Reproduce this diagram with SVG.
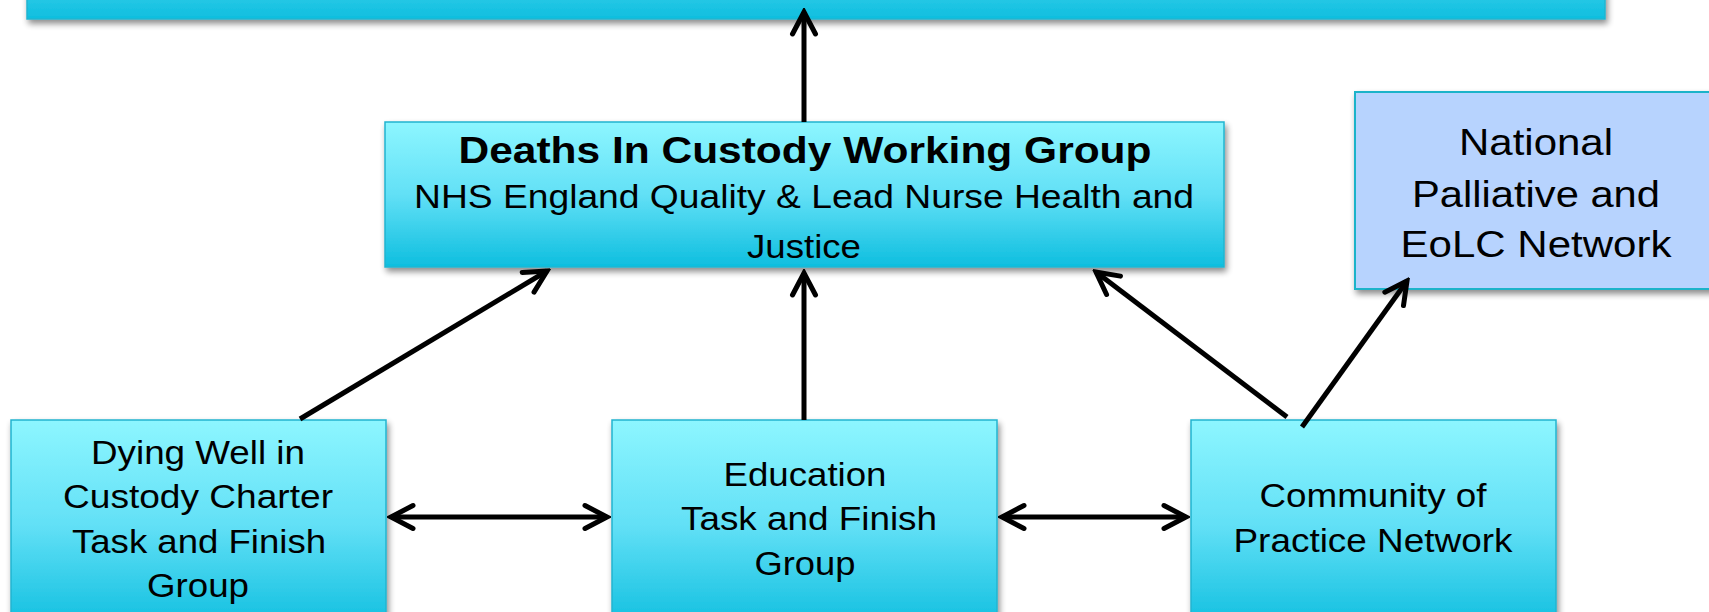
<svg xmlns="http://www.w3.org/2000/svg" width="1709" height="612" viewBox="0 0 1709 612">
<defs>
<linearGradient id="cyan" x1="0" y1="0" x2="0" y2="1">
<stop offset="0" stop-color="#8DF6FF"/>
<stop offset="0.5" stop-color="#62E0F6"/>
<stop offset="1" stop-color="#0EBEDF"/>
</linearGradient>
<filter id="shadow" x="-5%" y="-10%" width="115%" height="130%">
<feGaussianBlur in="SourceAlpha" stdDeviation="3"/>
<feOffset dx="2" dy="4" result="b"/>
<feComponentTransfer><feFuncA type="linear" slope="0.45"/></feComponentTransfer>
<feMerge><feMergeNode/><feMergeNode in="SourceGraphic"/></feMerge>
</filter>
<marker id="arr" markerUnits="userSpaceOnUse" viewBox="-30 -16 34 32" refX="0" refY="0" markerWidth="34" markerHeight="32" orient="auto-start-reverse">
<path d="M-22,-11.5 L0,0 L-22,11.5" fill="none" stroke="#000" stroke-width="5" stroke-linejoin="miter" stroke-linecap="round"/>
</marker>
<style>
.box{fill:url(#cyan);stroke:#22B4CF;stroke-width:1.5;filter:url(#shadow)}
.blue{fill:#B7D3FE;stroke:#1FB3C9;stroke-width:2;filter:url(#shadow)}
.t{font-family:"Liberation Sans",Arial,sans-serif;font-size:34px;fill:#000;text-anchor:middle}
.b{font-weight:bold;font-size:37px}
.n{font-size:37px}
.c{fill:none;stroke:#000;stroke-width:5;marker-end:url(#arr)}
.d{marker-start:url(#arr)}
</style>
</defs>
<rect width="1709" height="612" fill="#FFFFFF"/>
<g id="top-box">
<rect class="box" x="27" y="-130" width="1578" height="149"/>
</g>
<g id="deaths-in-custody">
<rect class="box" x="385" y="122" width="839" height="145"/>
<text class="t b" x="805" y="163" textLength="693" lengthAdjust="spacingAndGlyphs">Deaths In Custody Working Group</text>
<text class="t" x="804" y="208" textLength="780" lengthAdjust="spacingAndGlyphs">NHS England Quality &amp; Lead Nurse Health and</text>
<text class="t" x="804" y="258" textLength="114" lengthAdjust="spacingAndGlyphs">Justice</text>
</g>
<g id="national-palliative">
<rect class="blue" x="1355" y="92" width="365" height="197"/>
<text class="t n" x="1536" y="155" textLength="154" lengthAdjust="spacingAndGlyphs">National</text>
<text class="t n" x="1536" y="207" textLength="248" lengthAdjust="spacingAndGlyphs">Palliative and</text>
<text class="t n" x="1536" y="257" textLength="271" lengthAdjust="spacingAndGlyphs">EoLC Network</text>
</g>
<g id="dying-well">
<rect class="box" x="11" y="420" width="375" height="210"/>
<text class="t" x="198" y="464" textLength="214" lengthAdjust="spacingAndGlyphs">Dying Well in</text>
<text class="t" x="198" y="508" textLength="270" lengthAdjust="spacingAndGlyphs">Custody Charter</text>
<text class="t" x="199" y="553" textLength="254" lengthAdjust="spacingAndGlyphs">Task and Finish</text>
<text class="t" x="198" y="597" textLength="102" lengthAdjust="spacingAndGlyphs">Group</text>
</g>
<g id="education">
<rect class="box" x="612" y="420" width="385" height="210"/>
<text class="t" x="805" y="486" textLength="163" lengthAdjust="spacingAndGlyphs">Education</text>
<text class="t" x="809" y="530" textLength="256" lengthAdjust="spacingAndGlyphs">Task and Finish</text>
<text class="t" x="805" y="575" textLength="101" lengthAdjust="spacingAndGlyphs">Group</text>
</g>
<g id="community-of-practice">
<rect class="box" x="1191" y="420" width="365" height="210"/>
<text class="t" x="1373" y="507" textLength="227" lengthAdjust="spacingAndGlyphs">Community of</text>
<text class="t" x="1373" y="552" textLength="279" lengthAdjust="spacingAndGlyphs">Practice Network</text>
</g>
<g id="connectors">
<line class="c" x1="804" y1="122" x2="804" y2="12"/>
<line class="c" x1="300" y1="419" x2="547" y2="271"/>
<line class="c" x1="804" y1="420" x2="804" y2="273"/>
<line class="c" x1="1287" y1="417" x2="1096" y2="272"/>
<line class="c" x1="1302" y1="427" x2="1407" y2="281"/>
<line class="c d" x1="391" y1="517" x2="607" y2="517"/>
<line class="c d" x1="1002" y1="517" x2="1186" y2="517"/>
</g>
</svg>
